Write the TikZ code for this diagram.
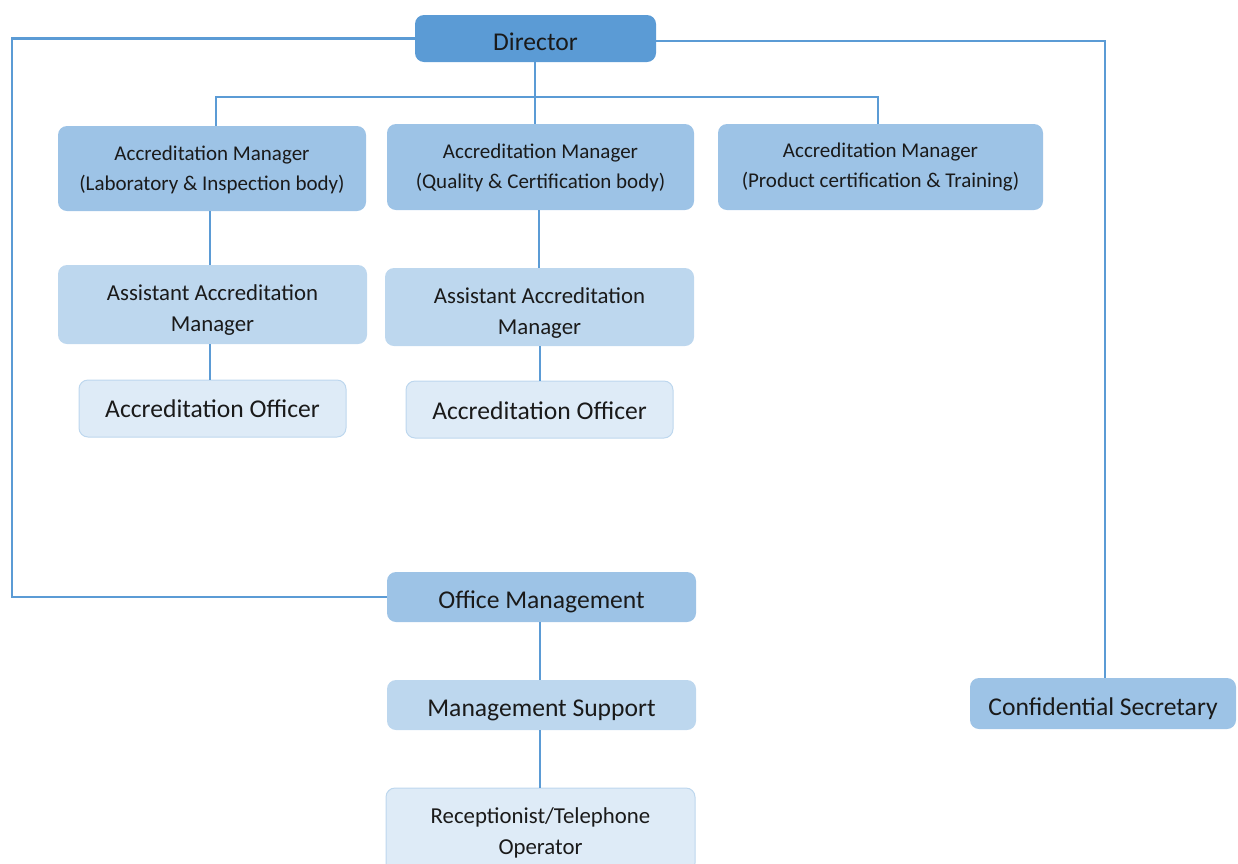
\documentclass[tikz,border=0pt]{standalone}
\usepackage{fontspec}
\setmainfont{Carlito}
\definecolor{lineblue}{HTML}{5B9BD5}
\definecolor{c1}{HTML}{5B9BD5}
\definecolor{c2}{HTML}{9DC3E6}
\definecolor{c3}{HTML}{BDD7EE}
\definecolor{c4}{HTML}{DEEBF7}
\definecolor{txt}{HTML}{1A1A1A}
\begin{document}
\begin{tikzpicture}[x=1pt,y=-1pt,
  box/.style={rounded corners=9pt, inner sep=0pt},
  lab/.style={inner sep=0pt, align=center, text=txt},
  big/.style={lab, font=\fontsize{25.6}{31}\selectfont},
  mid/.style={lab, font=\fontsize{22.8}{31}\selectfont},
  small/.style={lab, font=\fontsize{21}{30}\selectfont},
  lvA/.style={box, fill=c1},
  lvB/.style={box, fill=c2},
  lvC/.style={box, fill=c3},
  lvD/.style={box, fill=c4, draw=c3, line width=1pt},
  conn/.style={draw=lineblue, line width=2.8pt}
]
\useasboundingbox (0,0) rectangle (1238,863);
\clip (0,0) rectangle (1238,863);

\node[lvA, minimum width=241pt, minimum height=47pt,
  label={[big, yshift=-3pt]center:Director}] (dir) at (535.5,38.5) {};

\node[lvB, minimum width=308pt, minimum height=85pt,
  label={[small, yshift=-1pt]center:Accreditation Manager\\(Laboratory \& Inspection body)}] (am1) at (212,168.5) {};
\node[lvB, minimum width=307pt, minimum height=86pt,
  label={[small, yshift=-1pt]center:Accreditation Manager\\(Quality \& Certification body)}] (am2) at (540.5,167) {};
\node[lvB, minimum width=325pt, minimum height=86pt,
  label={[small, yshift=0pt]center:Accreditation Manager\\(Product certification \& Training)}] (am3) at (880.5,167) {};

\node[lvC, minimum width=309pt, minimum height=79pt,
  label={[mid, yshift=-6pt]center:Assistant Accreditation\\Manager}] (aam1) at (212.5,304.5) {};
\node[lvC, minimum width=309pt, minimum height=78pt,
  label={[mid, yshift=-6pt]center:Assistant Accreditation\\Manager}] (aam2) at (539.5,307) {};

\node[lvD, minimum width=267pt, minimum height=57pt,
  label={[big, yshift=0pt]center:Accreditation Officer}] (ao1) at (212.5,408.5) {};
\node[lvD, minimum width=267pt, minimum height=57pt,
  label={[big, yshift=-1pt]center:Accreditation Officer}] (ao2) at (539.5,409.5) {};

\node[lvB, minimum width=309pt, minimum height=50pt,
  label={[big, yshift=-5pt]center:Office Management}] (om) at (541.5,597) {};
\node[lvC, minimum width=309pt, minimum height=50pt,
  label={[big, yshift=-5pt]center:Management Support}] (ms) at (541.5,705) {};
\node[lvD, minimum width=309pt, minimum height=84pt,
  label={[mid, yshift=-3pt]center:Receptionist/Telephone\\Operator}] (rt) at (540.5,830) {};

\node[lvB, minimum width=266pt, minimum height=51pt,
  label={[big, yshift=-5pt]center:Confidential Secretary}] (cs) at (1103,703.5) {};

\coordinate (lcorner) at (12,38.5);
\coordinate (rcorner) at (1105,41);
\coordinate (bus) at (535,97);

\draw[conn] (dir.west) -- (lcorner) |- (om.west);
\draw[conn] ([yshift=-2.5pt]dir.east) -- (rcorner) -- (cs.north -| rcorner);
\draw[conn] (dir.south -| bus) -- (bus |- am2.north);
\draw[conn] (am1.north -| 216,0) |- (bus) -| (am3.north -| 878,0);
\draw[conn] (am1.south -| 210,0) -- (aam1.north -| 210,0);
\draw[conn] (aam1.south -| 210,0) -- (ao1.north -| 210,0);
\draw[conn] (am2.south -| 539,0) -- (aam2.north -| 539,0);
\draw[conn] (aam2.south -| 540,0) -- (ao2.north -| 540,0);
\draw[conn] (om.south -| 540,0) -- (ms.north -| 540,0);
\draw[conn] (ms.south -| 540,0) -- (rt.north -| 540,0);
\end{tikzpicture}
\end{document}
